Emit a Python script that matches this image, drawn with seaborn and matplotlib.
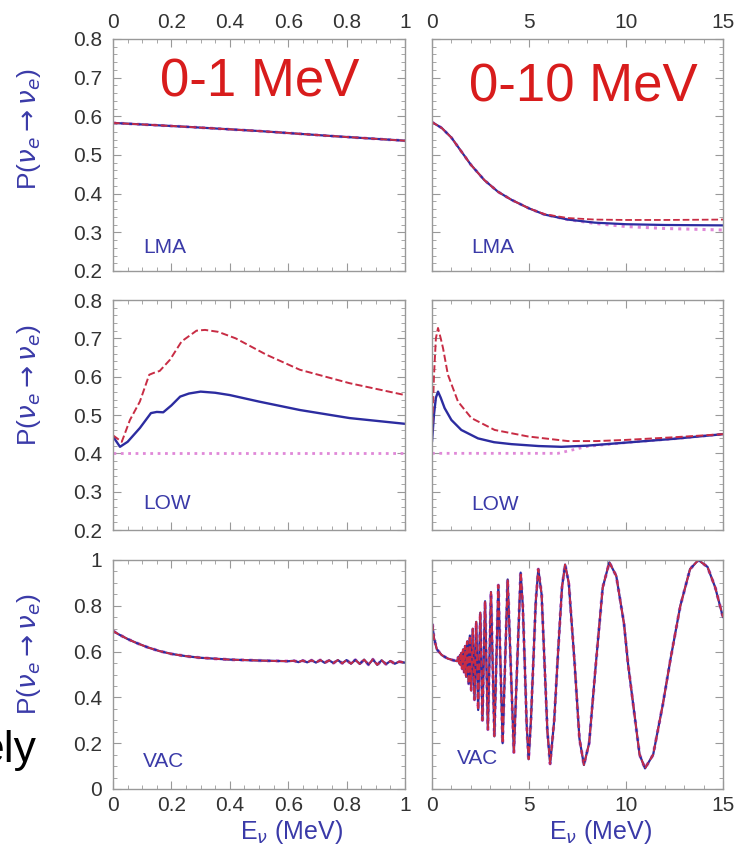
import matplotlib
matplotlib.use("Agg")
import matplotlib.pyplot as plt
from matplotlib.ticker import MultipleLocator, FuncFormatter
import seaborn as sns

sns.set_style("ticks")
plt.rcParams['font.family'] = ['Liberation Sans', 'DejaVu Sans']
plt.rcParams['mathtext.fontset'] = 'dejavusans'

# ---- LMA ----
lma_l_E = [0.0, 0.25, 0.5, 0.75, 1.0]
lma_l_P = [0.583, 0.573, 0.562, 0.549, 0.537]

lma_r_E = [0.0, 0.5, 1.0, 1.5, 2.0, 2.7, 3.4, 4.1, 5.0, 5.8, 7.0, 8.4, 10.0, 12.0, 15.0]
lma_r_solid = [0.585, 0.570, 0.545, 0.510, 0.475, 0.435, 0.405, 0.384, 0.362, 0.346,
               0.333, 0.325, 0.321, 0.319, 0.318]
lma_r_dashed = [0.585, 0.570, 0.545, 0.510, 0.475, 0.435, 0.405, 0.384, 0.362, 0.347,
                0.337, 0.333, 0.332, 0.332, 0.333]
lma_r_dotted = [0.585, 0.570, 0.545, 0.510, 0.475, 0.435, 0.405, 0.384, 0.362, 0.346,
                0.333, 0.323, 0.315, 0.310, 0.306]

# ---- LOW ----
low_l_E_solid = [0.0, 0.024, 0.05, 0.092, 0.13, 0.15, 0.172, 0.2, 0.23, 0.26, 0.30,
                 0.35, 0.4, 0.5, 0.64, 0.81, 1.0]
low_l_solid = [0.444, 0.417, 0.430, 0.466, 0.505, 0.508, 0.507, 0.525, 0.548, 0.556,
               0.561, 0.558, 0.552, 0.535, 0.513, 0.492, 0.477]
low_l_E_dashed = [0.0, 0.03, 0.058, 0.092, 0.124, 0.14, 0.16, 0.195, 0.235, 0.286,
                  0.315, 0.36, 0.42, 0.526, 0.64, 0.81, 1.0]
low_l_dashed = [0.447, 0.430, 0.487, 0.535, 0.605, 0.610, 0.615, 0.644, 0.692, 0.720,
                0.722, 0.717, 0.700, 0.657, 0.618, 0.583, 0.552]
low_l_E_dotted = [0.0, 1.0]
low_l_dotted = [0.40, 0.40]

low_r_E_solid = [0.0, 0.1, 0.2, 0.31, 0.45, 0.65, 1.0, 1.51, 2.37, 3.2, 4.09, 5.5,
                 6.67, 8.0, 10.0, 12.5, 15.0]
low_r_solid = [0.43, 0.50, 0.545, 0.561, 0.545, 0.518, 0.487, 0.461, 0.439, 0.429,
               0.424, 0.419, 0.417, 0.420, 0.428, 0.438, 0.450]
low_r_E_dashed = [0.0, 0.1, 0.2, 0.31, 0.45, 0.57, 0.82, 1.34, 2.03, 3.23, 4.95, 7.0,
                  8.5, 10.0, 12.5, 15.0]
low_r_dashed = [0.45, 0.60, 0.70, 0.727, 0.700, 0.674, 0.605, 0.535, 0.492, 0.461,
                0.444, 0.432, 0.432, 0.435, 0.442, 0.450]
low_r_E_dotted = [0.0, 6.5, 8.0, 10.0, 12.5, 15.0]
low_r_dotted = [0.40, 0.40, 0.418, 0.428, 0.438, 0.450]

# ---- VAC ----
vac_l_E = [0.0, 0.02, 0.05, 0.08, 0.12, 0.16, 0.2, 0.25, 0.3, 0.4, 0.5, 0.6,
           0.62, 0.635, 0.65, 0.665, 0.68, 0.695, 0.71, 0.725, 0.74, 0.755, 0.77,
           0.785, 0.80, 0.815, 0.83, 0.845, 0.86, 0.875, 0.89, 0.905, 0.92, 0.935,
           0.95, 0.965, 0.98, 1.0]
vac_l_P = [0.690, 0.675, 0.655, 0.638, 0.618, 0.602, 0.590, 0.580, 0.573, 0.565, 0.561,
           0.558, 0.560, 0.554, 0.561, 0.553, 0.562, 0.552, 0.563, 0.551, 0.562, 0.550,
           0.563, 0.549, 0.563, 0.547, 0.564, 0.546, 0.565, 0.543, 0.566, 0.542, 0.562,
           0.545, 0.559, 0.547, 0.556, 0.552]

vac_r_E = [0.02, 0.1, 0.25, 0.5, 0.8, 1.1, 1.3, 1.35, 1.40, 1.44, 1.48, 1.52, 1.56,
           1.61, 1.66, 1.71, 1.76, 1.82, 1.89, 1.95, 2.02, 2.10, 2.19, 2.28, 2.38,
           2.49, 2.60, 2.735, 2.88, 3.04, 3.215, 3.42, 3.64, 3.90, 4.22, 4.57, 4.68,
           4.78, 4.88, 4.98, 5.1, 5.22, 5.35, 5.48, 5.65, 5.8, 5.95, 6.09, 6.3, 6.5,
           6.7, 6.86, 7.05, 7.35, 7.6, 7.83, 8.1, 8.45, 8.8, 9.14, 9.5, 9.9, 10.1,
           10.4, 10.7, 10.98, 11.4, 11.9, 12.3, 12.8, 13.3, 13.73, 14.2, 14.6, 15.0]
vac_r_P = [0.720, 0.660, 0.610, 0.585, 0.570, 0.562, 0.558, 0.575, 0.548, 0.585, 0.540,
           0.595, 0.525, 0.610, 0.510, 0.625, 0.490, 0.645, 0.460, 0.670, 0.430, 0.700,
           0.390, 0.730, 0.345, 0.770, 0.300, 0.820, 0.260, 0.860, 0.230, 0.890, 0.200,
           0.915, 0.160, 0.945, 0.800, 0.550, 0.280, 0.130, 0.300, 0.550, 0.820, 0.960,
           0.850, 0.550, 0.250, 0.110, 0.300, 0.600, 0.880, 0.980, 0.900, 0.550, 0.220,
           0.105, 0.200, 0.550, 0.880, 0.990, 0.930, 0.720, 0.550, 0.350, 0.150, 0.090,
           0.150, 0.370, 0.570, 0.800, 0.960, 1.000, 0.970, 0.880, 0.750]

BLUE = '#2c2ca0'
RED = '#c82c44'
PINK = '#e088d8'
LBL_BLUE = '#3a3aa8'
TITLE_RED = '#d81c1c'

fig = plt.figure(figsize=(7.39, 8.51), dpi=100)
W, H = 739.0, 851.0

def make_ax(x0, x1, y0, y1):
    return fig.add_axes([x0 / W, 1 - y1 / H, (x1 - x0) / W, (y1 - y0) / H])

cols = [(113, 405), (432, 723)]
rows = [(39, 271), (300, 530), (560, 789)]

axes = [[make_ax(c[0], c[1], r[0], r[1]) for c in cols] for r in rows]

fmt = FuncFormatter(lambda v, p: '%g' % round(v, 3))

def curve(ax, E, P, color, ls, lw):
    sns.lineplot(x=E, y=P, ax=ax, color=color, linestyle=ls, linewidth=lw,
                 estimator=None)

for i, row in enumerate(axes):
    for j, ax in enumerate(row):
        if j == 0:
            ax.set_xlim(0, 1)
            ax.xaxis.set_major_locator(MultipleLocator(0.2))
            ax.xaxis.set_minor_locator(MultipleLocator(0.05))
        else:
            ax.set_xlim(0, 15)
            ax.xaxis.set_major_locator(MultipleLocator(5))
            ax.xaxis.set_minor_locator(MultipleLocator(1))
        if i < 2:
            ax.set_ylim(0.2, 0.8)
            ax.yaxis.set_major_locator(MultipleLocator(0.1))
            ax.yaxis.set_minor_locator(MultipleLocator(0.02))
        else:
            ax.set_ylim(0, 1)
            ax.yaxis.set_major_locator(MultipleLocator(0.2))
            ax.yaxis.set_minor_locator(MultipleLocator(0.05))
        ax.xaxis.set_major_formatter(fmt)
        ax.yaxis.set_major_formatter(fmt)
        ax.tick_params(which='both', direction='in', top=True, right=True,
                       bottom=True, left=True, colors='#999999',
                       labelcolor='#333333', labelsize=15)
        ax.tick_params(which='major', length=6, width=0.8)
        ax.tick_params(which='minor', length=3, width=0.6)
        ax.tick_params(axis='x', pad=5)
        ax.tick_params(axis='y', pad=8)
        ax.tick_params(labelleft=(j == 0), labeltop=(i == 0),
                       labelbottom=(i == 2), labelright=False)
        for s in ax.spines.values():
            s.set_color('#999999')
            s.set_linewidth(1.0)

# LMA
ax = axes[0][0]
curve(ax, lma_l_E, lma_l_P, PINK, ':', 2.2)
curve(ax, lma_l_E, lma_l_P, BLUE, '-', 1.6)
curve(ax, lma_l_E, lma_l_P, RED, '--', 1.3)
ax = axes[0][1]
curve(ax, lma_r_E, lma_r_dotted, PINK, ':', 2.2)
curve(ax, lma_r_E, lma_r_solid, BLUE, '-', 1.6)
curve(ax, lma_r_E, lma_r_dashed, RED, '--', 1.3)

# LOW
ax = axes[1][0]
curve(ax, low_l_E_dotted, low_l_dotted, PINK, ':', 2.0)
curve(ax, low_l_E_solid, low_l_solid, BLUE, '-', 1.7)
curve(ax, low_l_E_dashed, low_l_dashed, RED, '--', 1.4)
ax = axes[1][1]
curve(ax, low_r_E_dotted, low_r_dotted, PINK, ':', 2.0)
curve(ax, low_r_E_solid, low_r_solid, BLUE, '-', 1.7)
curve(ax, low_r_E_dashed, low_r_dashed, RED, '--', 1.4)

# VAC
ax = axes[2][0]
curve(ax, vac_l_E, vac_l_P, PINK, ':', 2.4)
curve(ax, vac_l_E, vac_l_P, BLUE, '-', 1.6)
curve(ax, vac_l_E, vac_l_P, RED, '--', 1.3)
ax = axes[2][1]
curve(ax, vac_r_E, vac_r_P, PINK, ':', 2.4)
curve(ax, vac_r_E, vac_r_P, BLUE, '-', 1.6)
curve(ax, vac_r_E, vac_r_P, RED, '--', 1.3)

# axis labels (after seaborn, which would reset them)
ylab_y = [0.61, 0.63, 0.59]
xlab_x = [0.61, 0.58]
for i in range(3):
    for j in range(2):
        ax = axes[i][j]
        ax.set_xlabel('')
        ax.set_ylabel('')
        if j == 0:
            ax.set_ylabel(r'P($\nu_e \rightarrow \nu_e$)', color=LBL_BLUE, fontsize=19)
            ax.yaxis.set_label_coords(-0.24, ylab_y[i])
        if i == 2:
            ax.set_xlabel(r'E$_\nu$ (MeV)', color=LBL_BLUE, fontsize=18)
            ax.xaxis.set_label_coords(xlab_x[j], -0.125)

# panel labels
labels = [[('LMA', 0.103, 0.103), ('LMA', 0.136, 0.103)],
          [('LOW', 0.103, 0.117), ('LOW', 0.136, 0.109)],
          [('VAC', 0.103, 0.119), ('VAC', 0.085, 0.134)]]
for i in range(3):
    for j in range(2):
        t, x, y = labels[i][j]
        axes[i][j].text(x, y, t, transform=axes[i][j].transAxes, color=LBL_BLUE,
                        fontsize=15, ha='left', va='center')

axes[0][0].text(0.503, 0.688, '0-1 MeV', color=TITLE_RED, fontsize=38,
                ha='center', va='center')
axes[0][1].text(7.8, 0.674, '0-10 MeV', color=TITLE_RED, fontsize=38,
                ha='center', va='center')

fig.text(36 / W, 1 - 762 / H, 'ely', ha='right', va='baseline', fontsize=32,
         color='black')

fig.savefig('out.png', dpi=100)
